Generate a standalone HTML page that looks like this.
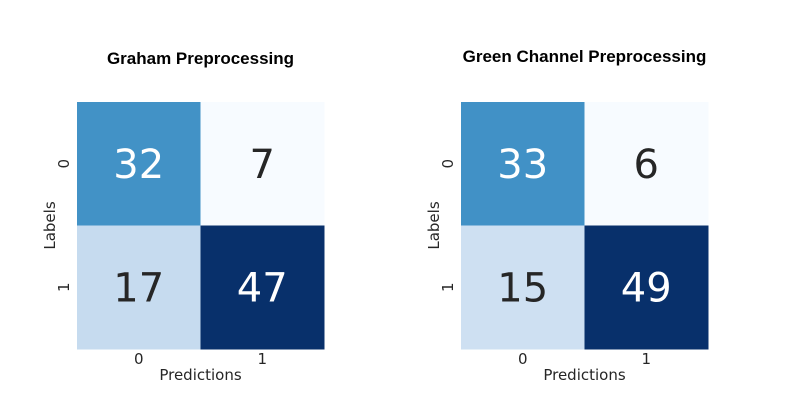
<!DOCTYPE html>
<html><head><meta charset="utf-8"><style>
body{margin:0;background:#fff;}
svg text{font-family:"DejaVu Sans","Liberation Sans",sans-serif;}
</style></head><body>
<svg id="s" width="788" height="412"></svg>
<script>
const titles=["Graham Preprocessing","Green Channel Preprocessing"];
const labels=["0","1"];
const matrixA=[[32,7],[17,47]];
const matrixB=[[33,6],[15,49]];
const matrices=[matrixA,matrixB];
const stops=["#f7fbff","#deebf7","#c6dbef","#9ecae1","#6baed6","#4292c6","#2171b5","#08519c","#08306b"];
function hex(c){return [1,3,5].map(i=>parseInt(c.substr(i,2),16));}
function blues(t){t=Math.max(0,Math.min(1,t));const p=t*8,i=Math.min(7,Math.floor(p)),f=p-i;const a=hex(stops[i]),b=hex(stops[i+1]);return "rgb("+a.map((v,k)=>Math.round(v+(b[k]-v)*f)).join(",")+")";}
const NS="http://www.w3.org/2000/svg",svg=document.getElementById("s");
function mk(t,at,par){const e=document.createElementNS(NS,t);for(const k in at)e.setAttribute(k,at[k]);(par||svg).appendChild(e);return e;}
const lefts=[77,461],top0=102,cell=123.5;
matrices.forEach((m,p)=>{
 const g=mk("g",{});
 
 
 const flat=m.flat(),mn=Math.min(...flat),mx=Math.max(...flat);
 const x0=lefts[p],cx=x0+cell;
 const t=mk("text",{x:cx,y:p?62:64,"text-anchor":"middle","font-size":"17","font-weight":"bold",fill:"#000"},g);
 t.style.fontFamily='"Liberation Sans",sans-serif';t.textContent=titles[p];
 
 
 m.forEach((row,r)=>row.forEach((v,c)=>{
  const n=(v-mn)/(mx-mn);
  const rc=mk("rect",{x:x0+c*cell,y:top0+r*cell,width:cell+0.5,height:cell+0.5,fill:blues(n)},g);
  
  
  const tx=mk("text",{x:x0+c*cell+cell/2,y:top0+r*cell+cell/2+14,"text-anchor":"middle","font-size":"40",fill:n>0.5?"#fff":"#262626"},g);
  tx.textContent=v;
  
  
 }));
 labels.forEach((l,i)=>{
  const a=mk("text",{x:x0+i*cell+cell/2,y:364,"text-anchor":"middle","font-size":"15",fill:"#262626"},g);a.textContent=l;
  
  
  const yy=top0+i*cell+cell/2;
  const b=mk("text",{x:x0-8,y:yy,"text-anchor":"middle","font-size":"15",fill:"#262626",transform:"rotate(-90 "+(x0-8)+" "+yy+")"},g);b.textContent=l;
  
  
 });
 const xl=mk("text",{x:cx,y:380,"text-anchor":"middle","font-size":"15",fill:"#262626"},g);xl.textContent="Predictions";
 
 
 const yx=x0-22,yc=top0+cell;
 const yl=mk("text",{x:yx,y:yc,"text-anchor":"middle","font-size":"15",fill:"#262626",transform:"rotate(-90 "+yx+" "+yc+")"},g);yl.textContent="Labels";
 
 
});
</script>
</body></html>
